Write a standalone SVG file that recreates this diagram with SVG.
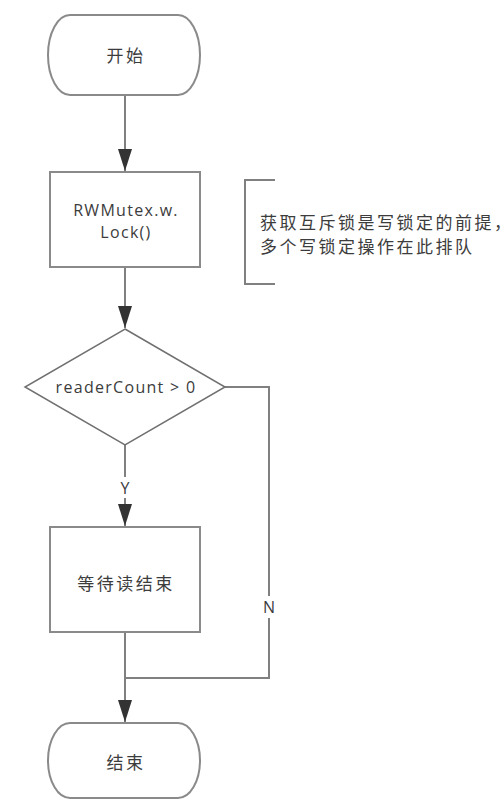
<svg xmlns="http://www.w3.org/2000/svg" width="503" height="807" viewBox="0 0 503 807">
<style>
.shape{fill:#fff;stroke:#8a8a8a;stroke-width:2}
.diam{fill:#fff;stroke:#707070;stroke-width:1.5}
.line{fill:none;stroke:#808080;stroke-width:2}
.t{font-family:"Open Sans","Noto Sans CJK SC",sans-serif;font-size:16px;fill:#3c3c3c;text-anchor:middle;dominant-baseline:central}
.cjk{font-family:"Noto Sans CJK SC",sans-serif;font-size:17px;letter-spacing:2.5px}
.lat{letter-spacing:1.3px}
.note{text-anchor:start}
</style>
<defs>
<marker id="arr" viewBox="0 0 22 14" refX="22" refY="7" markerWidth="22" markerHeight="14" markerUnits="userSpaceOnUse" orient="auto">
<path d="M0,0 L22,7 L0,14 Z" fill="#333"/>
</marker>
</defs>
<rect width="503" height="807" fill="#fff"/>
<g id="connectors">
<line class="line" x1="125" y1="95" x2="125" y2="171" marker-end="url(#arr)"/>
<line class="line" x1="125" y1="267" x2="125" y2="328" marker-end="url(#arr)"/>
<line class="line" x1="125" y1="445" x2="125" y2="477"/>
<line class="line" x1="125" y1="498" x2="125" y2="526" marker-end="url(#arr)"/>
<text class="t" x="125" y="488">Y</text>
<polyline class="line" points="225,387 269,387 269,596"/>
<polyline class="line" points="269,618 269,678 125,678"/>
<text class="t" x="269" y="607">N</text>
<line class="line" x1="125" y1="632" x2="125" y2="722" marker-end="url(#arr)"/>
</g>
<g id="start">
<path class="shape" d="M70,15 H178 A22,40 0 0 1 178,95 H70 A22,40 0 0 1 70,15 Z"/>
<text class="t cjk" x="126" y="54">开始</text>
</g>
<g id="lock">
<rect class="shape" x="50" y="172" width="150" height="95"/>
<text class="t lat" x="126" y="210">RWMutex.w.</text>
<text class="t lat" x="126" y="232">Lock()</text>
</g>
<g id="note">
<polyline class="line" points="275,180 245,180 245,284 275,284"/>
<text class="t cjk note" x="260" y="221">获取互斥锁是写锁定的前提，</text>
<text class="t cjk note" x="260" y="245">多个写锁定操作在此排队</text>
</g>
<g id="decision">
<polygon class="diam" points="125,329 225,387 125,445 25,387"/>
<text class="t lat" x="126" y="387">readerCount &gt; 0</text>
</g>
<g id="wait">
<rect class="shape" x="50" y="527" width="150" height="105"/>
<text class="t cjk" x="126" y="582">等待读结束</text>
</g>
<g id="end">
<path class="shape" d="M70,723 H178 A22,37.5 0 0 1 178,798 H70 A22,37.5 0 0 1 70,723 Z"/>
<text class="t cjk" x="126" y="761">结束</text>
</g>
</svg>
